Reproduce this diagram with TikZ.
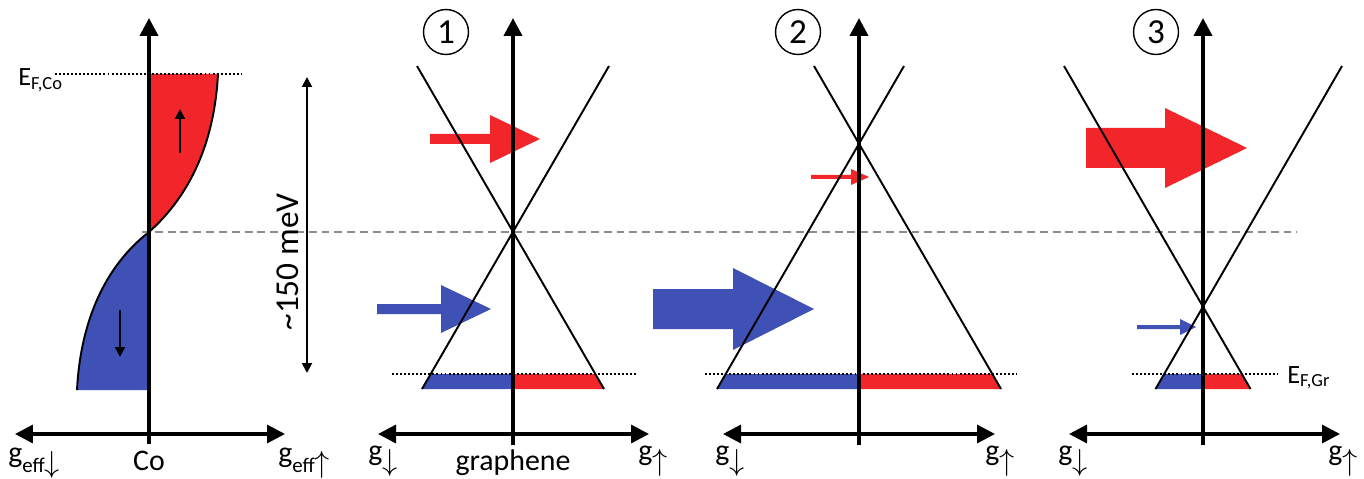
\documentclass[tikz,border=0pt]{standalone}
\usepackage{fontspec}
\setmainfont{Carlito}
\usetikzlibrary{arrows.meta, positioning, calc}
\definecolor{spinred}{RGB}{242,38,42}
\definecolor{spinblue}{RGB}{63,81,181}
\definecolor{fermigray}{RGB}{140,140,140}

\begin{document}
\begin{tikzpicture}[x=0.02cm, y=-0.02cm,
    axis/.style={line width=2.2pt, -{Triangle[length=0.36cm, width=0.36cm]}},
    gaxis/.style={line width=1.9pt,
      {Triangle[length=0.36cm, width=0.36cm]}-{Triangle[length=0.36cm, width=0.36cm]}},
    cone/.style={line width=1.1pt},
    fermi/.style={line width=1.2pt, dash pattern=on 1.1pt off 1.2pt},
    dirac/.style={line width=1.1pt, fermigray, dash pattern=on 4.5pt off 2.8pt},
    lbl/.style={font=\fontsize{17}{20}\selectfont, inner sep=0pt},
    efl/.style={font=\fontsize{15}{18}\selectfont, inner sep=0pt},
    num/.style={draw, circle, line width=0.8pt, minimum size=0.9cm,
                inner sep=0pt, font=\fontsize{20}{24}\selectfont},
    spinarr/.style={line width=1.1pt, -{Triangle[length=0.2cm, width=0.2cm]}},
    span/.style={line width=1.1pt,
      {Triangle[length=0.2cm, width=0.2cm]}-{Triangle[length=0.2cm, width=0.2cm]}}
  ]
  \useasboundingbox (0,0) rectangle (1364,479);

  %% Co density of states
  \fill[spinred] (149,74) -- (218,74) .. controls (214,150) and (185,200) .. (149,232) -- cycle;
  \fill[spinblue] (149,232) .. controls (100,270) and (80,330) .. (77,390) -- (149,390) -- cycle;
  \draw[cone] (218,74) .. controls (214,150) and (185,200) .. (149,232)
    .. controls (100,270) and (80,330) .. (77,390);
  \draw[fermi] (55,74) -- (242,74);
  \node[efl, anchor=base west] (efco) at (18,86) {E\textsubscript{F,Co}};

  %% spin arrows in Co
  \coordinate (up-a) at (180,153);
  \coordinate (up-b) at (180,109);
  \draw[spinarr] (up-a) -- (up-b);
  \coordinate (dn-a) at (120,310);
  \coordinate (dn-b) at (120,357);
  \draw[spinarr] (dn-a) -- (dn-b);

  %% Dirac point level
  \draw[dirac] (142,232) -- (1297,232);

  %% Co axes
  \coordinate (co-bot) at (149,444);
  \coordinate (co-top) at (149,18);
  \coordinate (co-l) at (15,434);
  \coordinate (co-r) at (285,434);
  \draw[axis] (co-bot) -- (co-top);
  \draw[gaxis] (co-l) -- (co-r);
  \node[lbl, anchor=base west] (co-gdn) at (8,462) {g\textsubscript{eff{\fontsize{16}{16}\selectfont$\downarrow$}}};
  \node[lbl, anchor=base] (co-name) at (149,470) {Co};
  \node[lbl, anchor=base west] (co-gup) at (278,462) {g\textsubscript{eff{\fontsize{16}{16}\selectfont$\uparrow$}}};

  %% energy span
  \coordinate (sp-top) at (307,77);
  \coordinate (sp-bot) at (307,373);
  \draw[span] (sp-top) -- (sp-bot);
  \node[font=\fontsize{19}{22}\selectfont, rotate=90, inner sep=0pt] (sp-lbl) at (288,262) {\textasciitilde150 meV};

  %% Panel 1
  \fill[spinblue] (431,374) -- (513,374) -- (513,389) -- (422,389) -- cycle;
  \fill[spinred] (513,374) -- (595,374) -- (604,389) -- (513,389) -- cycle;
  \draw[fermi] (392,374) -- (637,374);
  \fill[spinred] (430,134) -- (490,134) -- (490,115) -- (540,139) -- (490,163) -- (490,144) -- (430,144) -- cycle;
  \fill[spinblue] (377,304) -- (441,304) -- (441,285) -- (491,309) -- (441,333) -- (441,314) -- (377,314) -- cycle;
  \draw[cone] (417,66) -- (604,389);
  \draw[cone] (609,66) -- (422,389);
  \coordinate (p1-bot) at (513,445);
  \coordinate (p1-top) at (513,18);
  \coordinate (p1-l) at (378,434);
  \coordinate (p1-r) at (649,434);
  \draw[axis] (p1-bot) -- (p1-top);
  \draw[gaxis] (p1-l) -- (p1-r);
  \node[num] (n1) at (446,32) {1};
  \node[lbl, anchor=base west] (p1-gdn) at (368,460) {g\textsubscript{\fontsize{16}{16}\selectfont$\downarrow$}};
  \node[lbl, anchor=base] (p1-name) at (513,470) {graphene};
  \node[lbl, anchor=base west] (p1-gup) at (638,460) {g\textsubscript{\fontsize{16}{16}\selectfont$\uparrow$}};

  %% Panel 2
  \fill[spinblue] (725.5,374) -- (859,374) -- (859,389) -- (717,389) -- cycle;
  \fill[spinred] (859,374) -- (992.5,374) -- (1001,389) -- (859,389) -- cycle;
  \draw[fermi] (705,374) -- (1017,374);
  \fill[spinblue] (653,289) -- (733,289) -- (733,268) -- (814,309) -- (733,350) -- (733,329) -- (653,329) -- cycle;
  \fill[spinred] (811,175) -- (851,175) -- (851,169) -- (869,177) -- (851,185) -- (851,179) -- (811,179) -- cycle;
  \draw[cone] (814,66) -- (1001,389);
  \draw[cone] (904,66) -- (717,389);
  \coordinate (p2-bot) at (859,445);
  \coordinate (p2-top) at (859,18);
  \coordinate (p2-l) at (723,434);
  \coordinate (p2-r) at (995,434);
  \draw[axis] (p2-bot) -- (p2-top);
  \draw[gaxis] (p2-l) -- (p2-r);
  \node[num] (n2) at (798,32) {2};
  \node[lbl, anchor=base west] (p2-gdn) at (715,460) {g\textsubscript{\fontsize{16}{16}\selectfont$\downarrow$}};
  \node[lbl, anchor=base west] (p2-gup) at (985,460) {g\textsubscript{\fontsize{16}{16}\selectfont$\uparrow$}};

  %% Panel 3
  \fill[spinblue] (1164,374) -- (1203,374) -- (1203,389) -- (1155.5,389) -- cycle;
  \fill[spinred] (1203,374) -- (1242,374) -- (1250.5,389) -- (1203,389) -- cycle;
  \draw[fermi] (1132,374) -- (1278,374);
  \node[efl, anchor=base west] (efgr) at (1287,383) {E\textsubscript{F,Gr}};
  \fill[spinred] (1086,128) -- (1165,128) -- (1165,108) -- (1247,148) -- (1165,188) -- (1165,168) -- (1086,168) -- cycle;
  \fill[spinblue] (1137,325) -- (1180,325) -- (1180,319) -- (1196,327) -- (1180,335) -- (1180,329) -- (1137,329) -- cycle;
  \draw[cone] (1064,66) -- (1250.5,389);
  \draw[cone] (1342,66) -- (1155.5,389);
  \coordinate (p3-bot) at (1203,445);
  \coordinate (p3-top) at (1203,18);
  \coordinate (p3-l) at (1069,434);
  \coordinate (p3-r) at (1340,434);
  \draw[axis] (p3-bot) -- (p3-top);
  \draw[gaxis] (p3-l) -- (p3-r);
  \node[num] (n3) at (1156,32) {3};
  \node[lbl, anchor=base west] (p3-gdn) at (1058,460) {g\textsubscript{\fontsize{16}{16}\selectfont$\downarrow$}};
  \node[lbl, anchor=base west] (p3-gup) at (1328,460) {g\textsubscript{\fontsize{16}{16}\selectfont$\uparrow$}};
\end{tikzpicture}
\end{document}
